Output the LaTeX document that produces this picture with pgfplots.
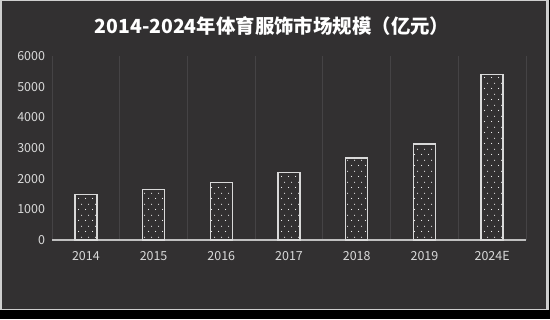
\documentclass[border=0pt]{standalone}
\usepackage{pgfplots}
\pgfplotsset{compat=1.18}
\usepackage{fontspec}
\setmainfont{Noto Sans CJK SC}
\usetikzlibrary{patterns}
\definecolor{bg}{HTML}{323031}
\definecolor{framegray}{HTML}{CFCFCF}
\definecolor{gridgray}{HTML}{454345}
\definecolor{axisgray}{HTML}{BFBFBF}
\definecolor{barline}{HTML}{D9D9D9}
\definecolor{labelgray}{HTML}{D9D9D9}
\pgfdeclarepatternformonly{mydots}{\pgfpointorigin}{\pgfqpoint{7bp}{10.6bp}}{\pgfqpoint{7bp}{10.6bp}}{%
  \pgfpathcircle{\pgfqpoint{1.75bp}{2.65bp}}{0.6bp}%
  \pgfpathcircle{\pgfqpoint{5.25bp}{7.95bp}}{0.6bp}%
  \pgfusepath{fill}}
\begin{document}
\begin{tikzpicture}[x=1bp,y=1bp]
\fill[black] (0,0) rectangle (550,319);
\fill[framegray] (0,9) rectangle (549,319);
\fill[bg] (1.5,10.5) rectangle (546,317.5);
\path[use as bounding box] (0,0) rectangle (550,319);
\node[text=white, font=\bfseries\fontsize{19.5}{20}\selectfont] at (272,293) {2014-2024年体育服饰市场规模（亿元）};
\begin{axis}[
  at={(52bp,79bp)}, anchor=south west,
  scale only axis, width=474bp, height=184bp,
  xmin=-0.5, xmax=6.5, ymin=0, ymax=6000,
  ybar, bar width=22bp,
  xtick={0,...,6},
  xticklabels={2014,2015,2016,2017,2018,2019,2024E},
  minor xtick={-0.5,0.5,...,6.5},
  xminorgrids,
  minor grid style={draw=gridgray, line width=0.8bp},
  ytick={0,1000,...,6000},
  axis x line*=bottom, axis y line*=left,
  y axis line style={draw=none},
  x axis line style={draw=axisgray, line width=1.2bp, -},
  major tick length=0pt, minor tick length=0pt,
  tick style={draw=none},
  /pgf/number format/1000 sep={},
  /pgf/number format/assume math mode=true,
  scaled y ticks=false,
  ticklabel style={text=labelgray, font=\fontsize{12.5}{13}\selectfont},
  yticklabel style={xshift=-3.5bp},
  xticklabel style={yshift=-8bp},
]
\addplot[draw=barline, line width=1.4bp, pattern=mydots, pattern color=white]
  coordinates {(0,1480) (1,1650) (2,1880) (3,2200) (4,2680) (5,3130) (6,5400)};
\end{axis}
\end{tikzpicture}
\end{document}
